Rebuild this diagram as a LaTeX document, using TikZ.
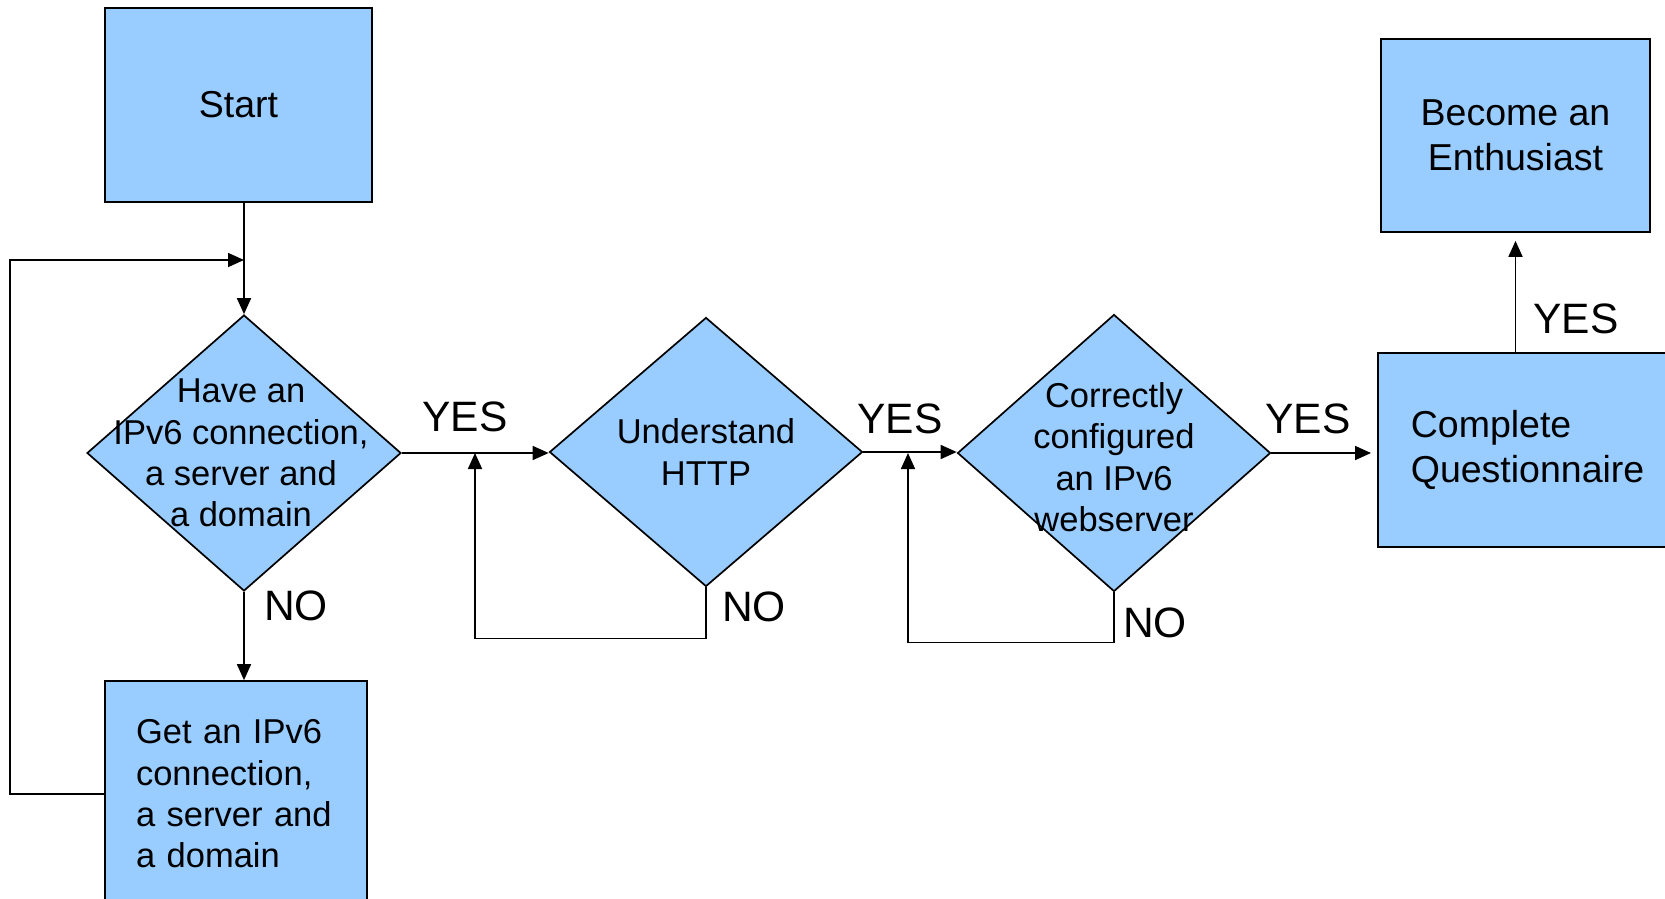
\documentclass[tikz,border=0pt]{standalone}
\usepackage{fontspec}
\setmainfont{Liberation Sans}
\usetikzlibrary{shapes.geometric,arrows.meta}
\definecolor{boxblue}{HTML}{99CCFF}
\tikzset{
	box/.style={draw=black,fill=boxblue,line width=1.7pt,rectangle,inner sep=0pt},
	decision/.style={draw=black,fill=boxblue,line width=1.7pt,diamond,inner sep=0pt},
	line/.style={draw=black,line width=1.7pt},
	arrow/.style={line,-{Triangle[length=16pt,width=14pt]}},
	txt/.style={align=center,font=\fontsize{34.5}{41.4}\selectfont},
	bigtxt/.style={align=center,font=\fontsize{37.5}{44.6}\selectfont},
	lbl/.style={font=\fontsize{42.5}{48}\selectfont,inner sep=0pt}
}

\begin{document}
\begin{tikzpicture}[x=1pt,y=-1pt]
	\useasboundingbox[fill=white] (0,0) rectangle (1665,898);
	\clip (0,0) rectangle (1665,898);
	% boxes
	\node[box,bigtxt,minimum width=267pt,minimum height=194pt] (start) at (238.5,105) {Start};
	\node[box,txt,align=left,text width=200pt,inner xsep=31pt,minimum height=226pt] (get) at (236,794) {Get an IPv6\\connection,\\a server and\\a domain};
	\node[box,bigtxt,align=left,anchor=west,text width=260pt,inner xsep=33pt,minimum height=194pt] (quest) at (1377,450) {Complete\\Questionnaire};
	\node[box,bigtxt,minimum width=269pt,minimum height=193pt] (become) at (1515.5,135.5) {Become an\\Enthusiast};
	% decisions
	\node[decision,minimum width=314pt,minimum height=276pt] (have) at (244,453) {};
	\node[txt] (havetxt) at (241,453) {Have an\\IPv6 connection,\\a server and\\a domain};
	\node[decision,minimum width=313pt,minimum height=269pt] (http) at (706,452) {};
	\node[txt] (httptxt) at (706,452) {Understand\\HTTP};
	\node[decision,minimum width=313pt,minimum height=277pt] (web) at (1114,453) {};
	\node[txt] (webtxt) at (1114,457) {Correctly\\configured\\an IPv6\\webserver};
	% connectors
	\coordinate (merge) at (244,260);
	\coordinate (back1) at (475,453);
	\coordinate (back2) at (908,453);
	\draw[arrow] (start.south -| have.north) -- (have.north);
	\draw[arrow] (get.west) -- ++(-94,0) |- (merge);
	\draw[arrow] (have.south) -- (have.south |- get.north);
	\draw[arrow] (have.east) -- (have.east -| http.west);
	\draw[arrow] (http.south) -- ++(0,51) -| (back1);
	\draw[arrow] (http.east) -- (http.east -| web.west);
	\draw[arrow] (web.south) -- ++(0,50) -| (back2);
	\draw[arrow,shorten >=6pt] (web.east) -- (web.east -| quest.west);
	\draw[arrow,shorten >=8pt] (become.south |- quest.north) -- (become.south);
	% labels
	\node[lbl] (yes1) at (465,417) {YES};
	\node[lbl] (yes2) at (900,419) {YES};
	\node[lbl] (yes3) at (1308,419) {YES};
	\node[lbl] (yes4) at (1576,319) {YES};
	\node[lbl] (no1) at (296,606) {NO};
	\node[lbl] (no2) at (754,607) {NO};
	\node[lbl] (no3) at (1155,623) {NO};
\end{tikzpicture}
\end{document}
